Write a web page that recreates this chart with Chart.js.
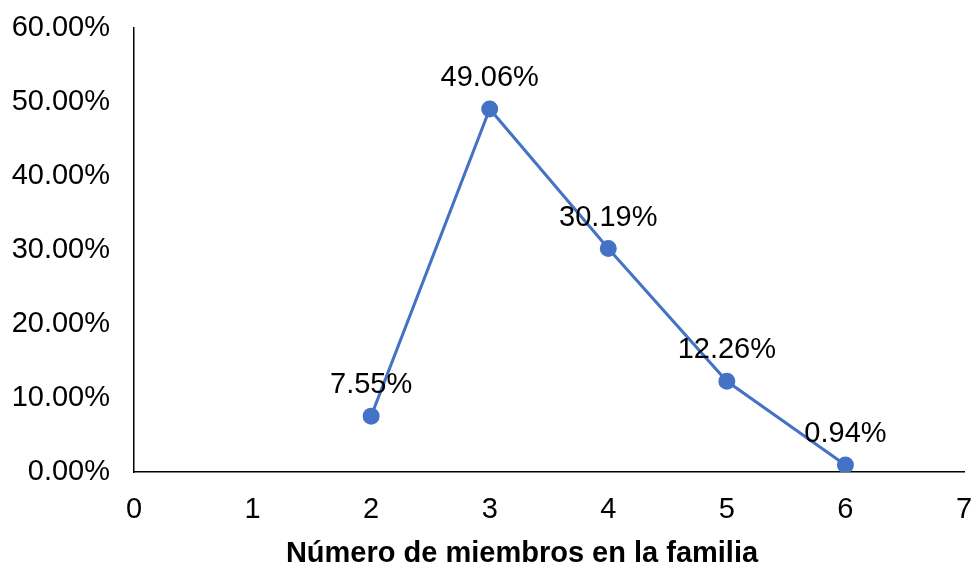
<!DOCTYPE html>
<html>
<head>
<meta charset="utf-8">
<script src="https://cdn.jsdelivr.net/npm/chart.js@4.4.0/dist/chart.umd.min.js"></script>
<style>
  html, body { margin: 0; padding: 0; background: #fff; }
  #wrap { width: 974px; height: 574px; }
</style>
</head>
<body>
<div id="wrap"><canvas id="chart" width="974" height="574"></canvas></div>
<script>
const members = [2, 3, 4, 5, 6];
const percents = [7.55, 49.06, 30.19, 12.26, 0.94];
const xTitle = 'Número de miembros en la familia';

const fontFamily = '"Liberation Sans", Arial, sans-serif';
const fontSize = 29;

// value above each point + axis title (title sits left of the plot centre in the original)
const valueLabels = {
    id: 'valueLabels',
    afterDatasetsDraw(chart) {
        const ctx = chart.ctx;
        const meta = chart.getDatasetMeta(0);
        ctx.save();
        ctx.font = fontSize + 'px ' + fontFamily;
        ctx.fillStyle = '#000';
        ctx.textAlign = 'center';
        ctx.textBaseline = 'middle';
        meta.data.forEach((pt, i) => {
            ctx.fillText(percents[i].toFixed(2) + '%', pt.x, pt.y - 31);
        });
        ctx.font = 'bold ' + fontSize + 'px ' + fontFamily;
        ctx.fillText(xTitle, 522, 554);
        ctx.restore();
    }
};

const ctx = document.getElementById('chart').getContext('2d');
new Chart(ctx, {
    type: 'scatter',
    data: {
        datasets: [{
            data: members.map((m, i) => ({ x: m, y: percents[i] })),
            showLine: true,
            borderColor: '#4472C4',
            backgroundColor: '#4472C4',
            borderWidth: 3,
            pointRadius: 7,
            pointHoverRadius: 7
        }]
    },
    options: {
        responsive: false,
        animation: false,
        layout: { padding: 0 },
        plugins: {
            legend: { display: false },
            tooltip: { enabled: false }
        },
        scales: {
            x: {
                type: 'linear',
                min: 0,
                max: 7,
                grid: { display: false, drawTicks: false },
                border: { display: true, color: '#000', width: 1.5 },
                ticks: {
                    stepSize: 1,
                    padding: 21,
                    color: '#000',
                    font: { family: fontFamily, size: fontSize }
                },
                afterFit(scale) {
                    scale.height = 102;
                    scale.paddingRight = 8;
                }
            },
            y: {
                min: 0,
                max: 60,
                grid: { display: false, drawTicks: false },
                border: { display: true, color: '#000', width: 1.5 },
                ticks: {
                    stepSize: 10,
                    padding: 24,
                    color: '#000',
                    font: { family: fontFamily, size: fontSize },
                    callback: v => v.toFixed(2) + '%'
                },
                afterFit(scale) {
                    scale.width = 134;
                    scale.paddingTop = 28;
                }
            }
        }
    },
    plugins: [valueLabels]
});
</script>
</body>
</html>
